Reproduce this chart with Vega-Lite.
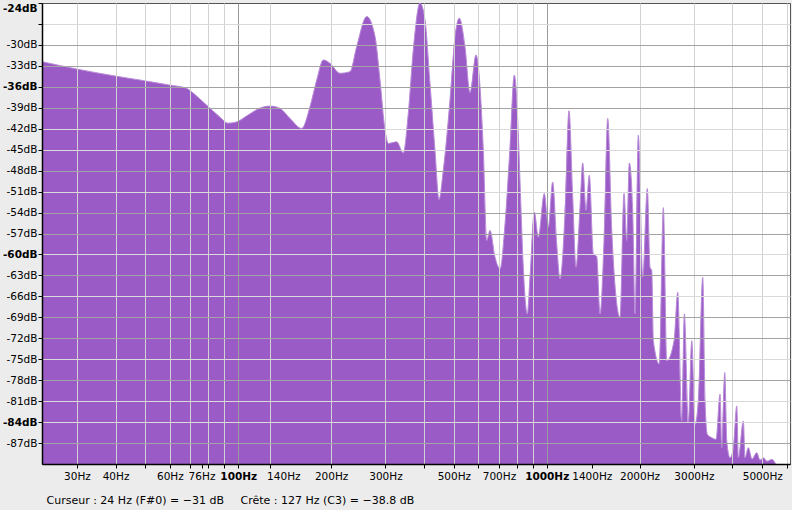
{
  "$schema": "https://vega.github.io/schema/vega-lite/v6.json",
  "autosize": {"type": "none"},
  "width": 748,
  "height": 461,
  "padding": {"left": 42, "top": 3, "right": 2, "bottom": 46},
  "background": "#ececec",
  "config": {
    "view": {"fill": "white", "stroke": "#555555", "strokeWidth": 1},
    "axis": {"labelFont": "DejaVu Sans", "labelFontSize": 10.5, "labelColor": "black", "titleFont": "DejaVu Sans"}
  },
  "data": {"values": [
    {"f": 23.1, "db": -32.4}, {"f": 29.9, "db": -33.45}, {"f": 39.8, "db": -34.45}, {"f": 49.6, "db": -35.13},
    {"f": 59.6, "db": -35.74}, {"f": 68.0, "db": -36.22}, {"f": 70.6, "db": -36.71}, {"f": 75.1, "db": -37.75},
    {"f": 80.9, "db": -39.05}, {"f": 87.2, "db": -40.34}, {"f": 92.6, "db": -41.2}, {"f": 98.3, "db": -41.06},
    {"f": 107.5, "db": -40.05}, {"f": 117.6, "db": -39.05}, {"f": 126.7, "db": -38.76}, {"f": 136.5, "db": -39.09},
    {"f": 147.1, "db": -40.52}, {"f": 160.6, "db": -41.96}, {"f": 170.8, "db": -38.86}, {"f": 179.6, "db": -35.03},
    {"f": 188.7, "db": -32.15}, {"f": 198.3, "db": -32.63}, {"f": 213.7, "db": -34.06}, {"f": 230.2, "db": -33.83},
    {"f": 242.1, "db": -30.24}, {"f": 260.9, "db": -25.94}, {"f": 277.6, "db": -28.81}, {"f": 288.1, "db": -35.03},
    {"f": 299.1, "db": -42.2}, {"f": 306.5, "db": -44.11}, {"f": 326.3, "db": -43.88}, {"f": 342.8, "db": -45.46},
    {"f": 355.8, "db": -39.81}, {"f": 369.3, "db": -30.72}, {"f": 388.3, "db": -24.01}, {"f": 403.1, "db": -26.41},
    {"f": 418.4, "db": -35.5}, {"f": 434.3, "db": -45.08}, {"f": 447.5, "db": -52.15}, {"f": 462.1, "db": -47.95},
    {"f": 485.8, "db": -37.9}, {"f": 504.3, "db": -28.81}, {"f": 520.7, "db": -26.17}, {"f": 543.3, "db": -30.24},
    {"f": 564.0, "db": -36.85}, {"f": 589.9, "db": -31.44}, {"f": 607.8, "db": -35.99}, {"f": 623.0, "db": -45.08},
    {"f": 639.0, "db": -58.0}, {"f": 655.0, "db": -56.56}, {"f": 680.0, "db": -60.4}, {"f": 706.0, "db": -62.06},
    {"f": 732.8, "db": -55.56}, {"f": 760.3, "db": -44.6}, {"f": 785.1, "db": -34.31}, {"f": 808.9, "db": -42.68},
    {"f": 819.2, "db": -49.38}, {"f": 839.6, "db": -61.83}, {"f": 865.1, "db": -68.52}, {"f": 882.7, "db": -63.27},
    {"f": 911.6, "db": -53.93}, {"f": 939.3, "db": -57.52}, {"f": 982.2, "db": -51.29}, {"f": 1012.0, "db": -56.09},
    {"f": 1045.9, "db": -49.63}, {"f": 1077.5, "db": -58.47}, {"f": 1104.4, "db": -63.5}, {"f": 1146.4, "db": -54.16},
    {"f": 1181.2, "db": -39.43}, {"f": 1214.3, "db": -51.78}, {"f": 1244.6, "db": -61.83}, {"f": 1282.4, "db": -53.22},
    {"f": 1308.4, "db": -46.9}, {"f": 1341.0, "db": -53.69}, {"f": 1374.5, "db": -48.66}, {"f": 1416.3, "db": -59.91},
    {"f": 1452.6, "db": -60.29}, {"f": 1489.0, "db": -68.52}, {"f": 1534.2, "db": -58.0}, {"f": 1577.2, "db": -40.52},
    {"f": 1625.1, "db": -56.56}, {"f": 1728.9, "db": -69.01}, {"f": 1781.3, "db": -51.29}, {"f": 1817.7, "db": -58.0},
    {"f": 1853.2, "db": -46.9}, {"f": 1901.1, "db": -54.16}, {"f": 1933.8, "db": -68.52}, {"f": 1982.1, "db": -42.92},
    {"f": 2048.4, "db": -63.27}, {"f": 2119.9, "db": -50.57}, {"f": 2162.9, "db": -61.83}, {"f": 2190.9, "db": -62.3},
    {"f": 2217.3, "db": -72.35}, {"f": 2318.6, "db": -75.7}, {"f": 2389.0, "db": -53.3}, {"f": 2450.3, "db": -75.23},
    {"f": 2587.8, "db": -72.35}, {"f": 2660.3, "db": -65.42}, {"f": 2740.5, "db": -83.84}, {"f": 2794.7, "db": -68.52},
    {"f": 2879.0, "db": -84.08}, {"f": 2953.5, "db": -72.35}, {"f": 3027.2, "db": -84.32}, {"f": 3102.7, "db": -80.73},
    {"f": 3206.0, "db": -63.27}, {"f": 3261.7, "db": -80.97}, {"f": 3317.8, "db": -85.75}, {"f": 3428.6, "db": -86.24},
    {"f": 3540.9, "db": -86.47}, {"f": 3647.7, "db": -80.01}, {"f": 3694.2, "db": -87.67}, {"f": 3778.4, "db": -76.91},
    {"f": 3835.4, "db": -86.71}, {"f": 3930.9, "db": -89.11}, {"f": 4028.9, "db": -87.67}, {"f": 4132.3, "db": -81.69},
    {"f": 4182.1, "db": -89.11}, {"f": 4341.1, "db": -83.84}, {"f": 4396.5, "db": -89.11}, {"f": 4506.2, "db": -87.67},
    {"f": 4632.5, "db": -89.3}, {"f": 4797.5, "db": -88.39}, {"f": 4917.0, "db": -89.44}, {"f": 5040.3, "db": -89.11},
    {"f": 5181.0, "db": -89.6}, {"f": 5366.6, "db": -89.34}, {"f": 5500.3, "db": -89.83}, {"f": 5583.0, "db": -90.5}
  ]},
  "encoding": {
    "x": {
      "field": "f", "type": "quantitative",
      "scale": {"type": "log", "domain": [23.1, 6150], "nice": false},
      "axis": {
        "values": [30, 40, 50, 60, 70, 76, 80, 90, 100, 127, 140, 200, 300, 400, 500, 600, 700, 800, 900, 1000, 1400, 2000, 3000, 4000, 5000, 6000],
        "labelExpr": "indexof([30,40,60,76,100,140,200,300,500,700,1000,1400,2000,3000,5000], datum.value) >= 0 ? datum.value + 'Hz' : ''",
        "labelFontWeight": {"condition": {"test": "datum.value == 100 || datum.value == 1000", "value": "bold"}, "value": "normal"},
        "labelOverlap": false,
        "labelFlush": false,
        "labelBound": false,
        "labelPadding": 3,
        "tickSize": 4,
        "tickColor": "black",
        "tickOpacity": {"condition": {"test": "datum.value == 140", "value": 0}, "value": 1},
        "domainColor": "black",
        "domainWidth": 1.5,
        "grid": true,
        "gridOpacity": {"condition": {"test": "indexof([76,140,1400], datum.value) >= 0", "value": 0}, "value": 1},
        "gridColor": {"condition": {"test": "datum.value == 100 || datum.value == 1000", "value": "#9a9a9a"}, "value": "#d2d2d2"},
        "gridWidth": 1,
        "zindex": 1,
        "title": "Curseur : 24 Hz (F#0) = −31 dB\u2003\u2002Crête : 127 Hz (C3) = −38.8 dB",
        "titleFontSize": 11,
        "titleFontWeight": "normal",
        "titleColor": "black",
        "titleAnchor": "start",
        "titleAlign": "left",
        "titleBaseline": "middle",
        "titleX": 4,
        "titleY": 36
      }
    },
    "y": {
      "field": "db", "type": "quantitative",
      "scale": {"domain": [-90, -24], "nice": false, "zero": false},
      "axis": {
        "values": [-87, -84, -81, -78, -75, -72, -69, -66, -63, -60, -57, -54, -51, -48, -45, -42, -39, -36, -33, -30, -27, -24],
        "labelExpr": "datum.value == -27 ? '' : datum.value + 'dB'",
        "labelFontWeight": {"condition": {"test": "indexof([-24,-36,-60,-84], datum.value) >= 0", "value": "bold"}, "value": "normal"},
        "labelFlush": true,
        "labelOverlap": false,
        "labelPadding": 1,
        "tickSize": 4,
        "tickColor": "black",
        "domainColor": "black",
        "domainWidth": 1.5,
        "grid": true,
        "gridColor": {"condition": {"test": "indexof([-27,-42,-45,-51,-60,-66,-75,-81,-84], datum.value) >= 0", "value": "#d9d9d9"}, "value": "#a3a3a3"},
        "gridOpacity": {"condition": {"test": "datum.value == -24", "value": 0}, "value": 1},
        "zindex": 1,
        "title": null
      }
    }
  },
  "layer": [
    {"mark": {"type": "area", "color": "#9b5bc6", "clip": true, "interpolate": "monotone"}, "encoding": {"y2": {"datum": -90}}},
    {"mark": {"type": "line", "color": "#b88ad8", "strokeWidth": 1, "clip": true, "interpolate": "monotone"}}
  ]
}
